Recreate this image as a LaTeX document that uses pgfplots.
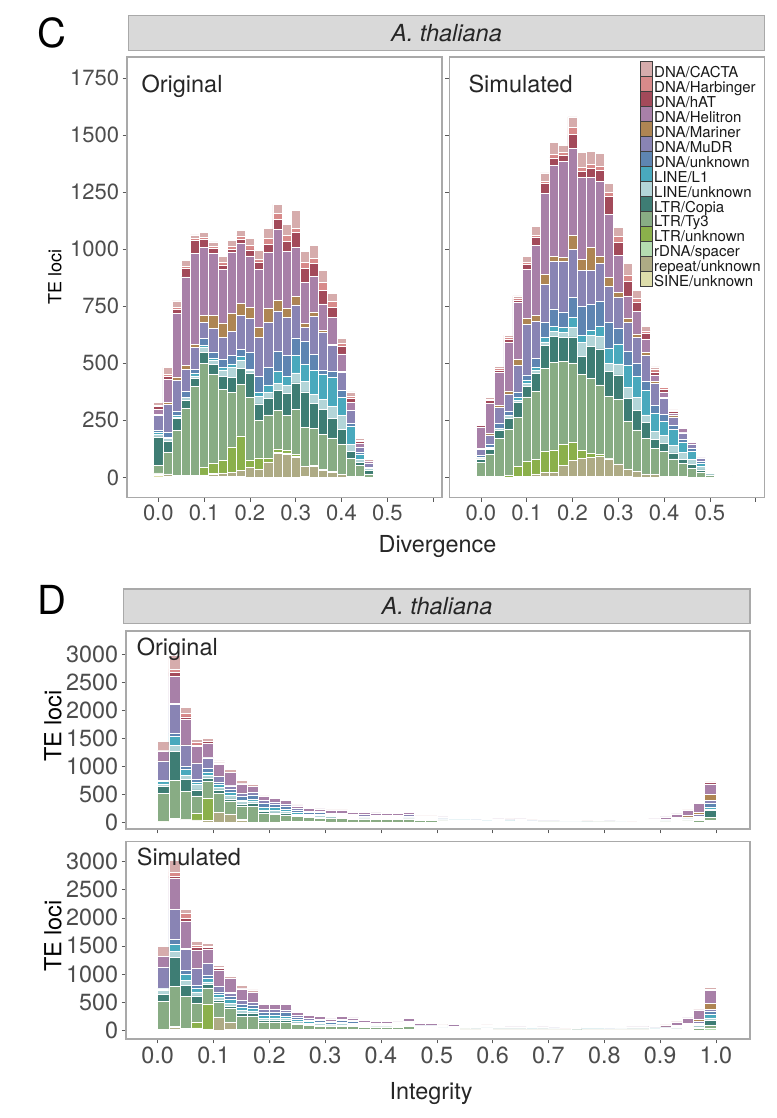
\documentclass[border=0pt]{standalone}
\usepackage{fontspec}
\setmainfont{TeX Gyre Heros}
\usepackage{pgfplots}
\usepackage{pgfplotstable}
\pgfplotsset{compat=1.18}

\definecolor{cCA}{HTML}{D6ACAC}
\definecolor{cHB}{HTML}{D88A8A}
\definecolor{cHA}{HTML}{A34A5A}
\definecolor{cHE}{HTML}{A880A8}
\definecolor{cMA}{HTML}{AE8553}
\definecolor{cMU}{HTML}{8984B4}
\definecolor{cDU}{HTML}{5E85B2}
\definecolor{cL1}{HTML}{49A9BD}
\definecolor{cLN}{HTML}{B3D5D8}
\definecolor{cCO}{HTML}{3E7D74}
\definecolor{cTY}{HTML}{88AC84}
\definecolor{cLU}{HTML}{8BB04B}
\definecolor{cRD}{HTML}{B4DCB0}
\definecolor{cRE}{HTML}{AEAB85}
\definecolor{cSI}{HTML}{DEDEAB}
\definecolor{framec}{HTML}{A9A9A9}
\definecolor{stripc}{HTML}{D9D9D9}
\definecolor{labgray}{HTML}{4D4D4D}

\newcommand\fs[1]{\fontsize{#1}{#1}\selectfont}

\pgfplotstableread{
x SI RE RD LU TY CO LN L1 DU MU MA HE HA HB CA
0.00 8 7 5 0 33 124 12 10 7 65 5 22 12 5 12
0.02 6 6 3 0 94 47 15 5 20 125 7 100 14 10 30
0.04 5 0 5 0 196 51 8 5 19 135 16 280 17 7 29
0.06 3 0 5 0 294 36 12 0 26 98 15 390 36 9 26
0.08 5 0 5 0 387 36 12 10 19 95 13 400 55 9 17
0.10 3 5 3 32 458 48 19 12 30 70 29 300 35 9 22
0.12 3 10 3 44 392 44 18 10 26 102 58 270 22 10 20
0.14 3 17 0 55 312 54 30 10 38 94 64 235 19 10 26
0.16 5 17 0 112 240 65 44 14 38 105 80 265 15 12 25
0.18 3 29 0 150 224 73 32 19 32 148 54 260 20 14 25
0.20 0 44 0 33 272 105 15 5 73 148 51 225 26 19 32
0.22 0 36 0 49 164 73 33 19 70 171 41 255 33 12 39
0.24 0 68 0 17 189 73 26 32 77 196 61 248 33 26 44
0.26 0 105 5 15 167 90 29 52 90 177 44 313 44 26 39
0.28 0 102 5 10 153 99 33 39 93 167 38 250 44 26 49
0.30 0 87 5 10 196 116 44 76 77 145 36 215 68 15 80
0.32 5 44 0 0 169 157 44 77 99 61 19 180 62 25 49
0.34 0 47 5 0 164 109 39 105 70 167 19 156 55 23 58
0.36 0 29 5 0 154 109 44 112 17 164 10 116 61 33 54
0.38 0 22 3 0 148 84 55 128 26 113 5 117 44 26 36
0.40 0 12 0 0 131 67 61 81 29 80 5 75 32 15 22
0.42 0 5 0 0 78 30 33 80 9 58 0 35 17 12 18
0.44 0 3 0 0 50 12 15 23 9 22 0 15 7 7 7
0.46 0 0 0 0 15 15 9 3 3 15 0 12 0 0 7
0.48 0 0 0 0 4 0 0 0 0 0 0 2 0 0 0
}\tCO

\pgfplotstableread{
x SI RE RD LU TY CO LN L1 DU MU MA HE HA HB CA
0.00 3 0 0 0 62 16 3 3 10 26 5 93 7 3 6
0.02 3 0 0 0 100 19 5 3 15 41 7 131 12 4 12
0.04 3 0 0 3 166 34 7 0 22 73 7 145 9 7 12
0.06 0 0 0 10 199 48 15 0 19 73 15 213 12 9 10
0.08 3 0 3 41 217 63 10 12 26 117 26 250 10 5 12
0.10 0 4 0 66 283 44 15 15 22 222 26 216 19 10 26
0.12 3 12 0 63 298 78 15 15 37 161 29 305 37 7 40
0.14 3 19 0 91 363 103 15 19 66 166 44 357 44 7 37
0.16 3 19 0 98 385 114 19 22 78 208 22 398 34 15 54
0.18 3 48 0 92 364 107 22 23 66 223 15 421 26 15 29
0.20 5 70 0 78 349 114 41 44 88 210 63 378 63 29 48
0.22 5 78 0 34 334 78 63 29 129 158 48 358 26 19 66
0.24 3 85 0 19 327 139 48 22 114 151 100 306 41 15 59
0.26 3 88 0 9 305 158 56 44 107 166 34 326 48 19 56
0.28 3 78 3 0 270 110 34 66 114 158 41 276 78 18 41
0.30 3 56 0 0 283 107 48 88 70 136 19 163 56 26 40
0.32 3 34 0 0 210 100 48 95 63 126 16 100 63 29 51
0.34 2 26 0 0 180 85 56 95 56 114 15 100 40 15 37
0.36 0 15 0 0 155 70 34 107 41 111 15 56 26 12 21
0.38 0 12 0 0 114 41 34 81 34 95 10 26 15 10 12
0.40 0 5 0 0 110 34 34 63 29 70 7 22 10 9 6
0.42 0 3 0 0 78 26 34 68 18 38 7 10 7 4 3
0.44 0 3 0 0 58 18 31 44 15 26 3 15 7 3 4
0.46 0 0 0 0 41 15 22 37 12 18 0 7 3 3 3
0.48 0 0 0 0 23 10 15 15 7 12 0 3 0 0 3
0.50 0 0 0 0 8 3 5 5 0 5 0 3 0 0 0
0.52 0 0 0 0 3 0 4 0 0 0 0 0 0 0 0
0.54 0 0 0 0 0 0 3 0 0 2 0 0 0 0 0
0.56 0 0 0 0 0 0 3 0 4 0 0 0 0 0 0
}\tCS

\pgfplotstableread{
x SI RE RD LU TY CO LN L1 DU MU MA HE HA HB CA
0.01 6 6 0 0 505 119 48 40 24 339 6 172 6 6 160
0.03 20 20 12 12 683 523 107 154 59 511 12 489 71 59 238
0.05 21 21 12 0 499 208 77 107 48 375 12 450 48 59 112
0.07 12 12 17 119 309 107 95 48 42 285 12 290 30 42 59
0.09 6 30 0 392 297 65 48 59 59 190 6 250 36 6 53
0.11 0 178 5 0 334 59 48 48 42 107 6 200 30 6 30
0.13 3 148 0 0 230 36 59 65 42 65 6 230 6 6 48
0.15 7 30 10 0 244 30 48 30 59 59 6 160 6 6 48
0.17 0 5 0 0 279 48 48 30 77 42 5 101 6 6 30
0.19 0 0 0 0 160 30 30 48 71 48 0 71 0 0 12
0.21 0 6 0 0 137 24 48 48 59 42 0 59 5 0 18
0.23 0 11 0 0 119 30 30 42 59 36 0 59 0 0 24
0.25 0 10 0 0 89 24 24 36 36 24 0 48 6 0 12
0.27 0 10 0 0 71 18 24 24 30 24 0 48 0 0 12
0.29 0 10 0 0 65 18 24 24 30 24 0 42 0 0 12
0.31 0 8 0 0 59 12 24 18 24 24 0 42 0 0 9
0.33 0 8 0 0 60 15 20 18 24 24 0 42 0 0 9
0.35 0 7 0 0 48 12 20 15 20 24 0 36 0 0 8
0.37 0 7 0 0 42 12 18 15 18 24 0 36 0 0 6
0.39 0 6 0 0 42 10 18 12 18 24 0 36 0 0 6
0.41 0 6 0 0 40 10 15 12 18 20 0 33 0 0 6
0.43 0 6 0 0 40 10 15 12 18 20 0 33 0 0 6
0.45 0 7 0 0 42 12 18 15 18 24 0 36 0 0 6
0.47 0 5 0 0 25 8 12 8 12 14 0 24 0 0 5
0.49 0 5 0 0 25 8 12 8 12 14 0 24 0 0 5
0.51 0 4 0 0 22 6 12 6 12 12 0 22 0 0 5
0.53 0 4 0 0 18 5 10 5 10 12 0 20 0 0 5
0.55 0 4 0 0 18 5 10 5 10 12 0 20 0 0 5
0.57 0 3 0 0 14 4 8 4 8 10 0 15 0 0 5
0.59 0 2 0 0 10 3 6 3 6 8 0 12 0 0 3
0.61 0 3 0 0 12 4 8 4 7 9 0 14 0 0 4
0.63 0 2 0 0 11 3 7 3 7 9 0 13 0 0 4
0.65 0 3 0 0 12 4 8 4 7 9 0 14 0 0 4
0.67 0 2 0 0 8 2 6 2 5 6 0 8 0 0 3
0.69 0 2 0 0 6 2 5 2 4 5 0 7 0 0 3
0.71 0 2 0 0 6 2 5 2 4 5 0 7 0 0 3
0.73 0 1 0 0 3 1 3 1 2 3 0 3 0 0 1
0.75 0 1 0 0 3 1 3 1 2 3 0 3 0 0 1
0.77 0 1 0 0 4 1 4 1 3 4 0 4 0 0 2
0.79 0 2 0 0 5 2 4 2 3 4 0 6 0 0 2
0.81 0 2 0 0 6 2 5 2 4 5 0 7 0 0 3
0.83 0 1 0 0 3 1 3 1 2 3 0 3 0 0 1
0.85 0 0 0 0 1 0 1 0 1 1 0 1 0 0 1
0.87 0 0 0 0 5 0 8 0 5 10 0 20 0 0 5
0.89 0 0 0 0 5 0 8 3 5 10 2 27 0 0 5
0.91 0 0 0 0 8 5 10 5 8 12 8 40 0 0 5
0.93 0 0 0 0 10 8 12 10 10 15 15 70 5 0 5
0.95 0 0 10 0 15 10 15 10 15 20 25 90 5 0 5
0.97 0 0 0 0 30 20 20 20 20 30 30 160 10 0 10
0.99 0 20 10 0 50 130 30 30 60 60 107 186 24 0 12
}\tDO

\pgfplotstableread{
x SI RE RD LU TY CO LN L1 DU MU MA HE HA HB CA
0.01 6 6 0 0 493 131 65 30 12 368 0 196 6 6 166
0.03 20 20 12 12 713 511 107 131 83 535 12 553 36 71 202
0.05 12 12 0 0 570 208 89 95 77 374 12 488 59 83 71
0.07 12 12 12 107 333 131 71 71 48 297 12 319 48 42 59
0.09 0 18 0 446 285 59 48 65 59 201 6 250 42 6 59
0.11 0 226 5 0 255 48 48 48 48 107 0 283 36 6 48
0.13 5 137 0 0 244 30 65 59 59 59 6 250 0 0 48
0.15 0 10 0 0 238 48 48 59 59 59 0 210 6 6 59
0.17 0 5 0 0 238 48 48 48 59 48 0 177 0 0 42
0.19 0 8 0 0 137 30 30 48 71 48 0 85 0 0 18
0.21 0 7 0 0 137 30 40 40 65 48 0 90 0 0 18
0.23 0 7 0 0 130 30 35 45 65 45 0 100 0 0 18
0.25 0 6 0 0 95 24 24 36 40 30 0 60 0 0 12
0.27 0 5 0 0 75 18 24 24 30 24 0 55 0 0 12
0.29 0 5 0 0 65 18 24 24 30 24 0 47 0 0 12
0.31 0 5 0 0 55 12 20 18 24 20 0 45 0 0 9
0.33 0 5 0 0 65 18 24 24 30 24 0 53 0 0 12
0.35 0 6 0 0 58 14 22 20 26 22 0 48 0 0 10
0.37 0 7 0 0 42 12 18 15 18 24 0 36 0 0 6
0.39 0 6 0 0 40 10 15 12 18 20 0 33 0 0 6
0.41 0 6 0 0 40 10 15 12 18 20 0 33 0 0 6
0.43 0 5 0 0 36 10 14 12 16 20 0 30 0 0 6
0.45 0 7 0 0 56 12 22 18 24 24 0 48 0 0 9
0.47 0 5 0 0 27 8 12 8 12 16 0 26 0 0 5
0.49 0 5 0 0 27 8 12 8 12 16 0 26 0 0 5
0.51 0 4 0 0 18 5 10 5 10 12 0 20 0 0 5
0.53 0 4 0 0 20 6 12 6 12 14 0 22 0 0 5
0.55 0 3 0 0 17 5 10 5 10 11 0 18 0 0 4
0.57 0 3 0 0 14 4 8 4 8 10 0 16 0 0 4
0.59 0 4 0 0 18 5 10 5 10 12 0 20 0 0 5
0.61 0 3 0 0 14 4 8 4 8 10 0 16 0 0 4
0.63 0 3 0 0 12 3 7 3 7 8 0 13 0 0 3
0.65 0 3 0 0 12 3 7 3 7 8 0 13 0 0 3
0.67 0 2 0 0 8 2 6 2 5 6 0 9 0 0 2
0.69 0 3 0 0 12 3 7 3 7 8 0 13 0 0 3
0.71 0 2 0 0 10 3 6 3 6 8 0 12 0 0 3
0.73 0 1 0 0 3 1 3 1 2 3 0 3 0 0 1
0.75 0 0 0 0 2 1 2 1 1 2 0 2 0 0 1
0.77 0 2 0 0 8 2 6 2 5 6 0 9 0 0 2
0.79 0 2 0 0 8 2 6 2 5 6 0 9 0 0 2
0.81 0 1 0 0 6 2 4 2 3 4 0 6 0 0 2
0.83 0 2 0 0 9 3 6 3 5 7 0 10 0 0 3
0.85 0 3 0 0 12 3 7 3 7 8 0 13 0 0 3
0.87 0 3 0 0 12 3 7 3 7 8 0 13 0 0 3
0.89 0 0 0 0 6 3 8 4 6 10 4 25 0 0 5
0.91 0 0 0 0 8 5 10 5 8 12 6 30 0 0 5
0.93 0 0 0 0 10 8 12 10 10 15 12 62 5 0 5
0.95 0 0 10 0 15 10 15 12 15 20 25 94 5 0 5
0.97 0 0 0 0 30 25 25 20 20 30 35 163 10 0 10
0.99 0 0 27 0 50 89 48 59 59 30 107 231 30 0 24
}\tDS

\pgfplotsset{
  lkey/.style={legend image code/.code={\draw[##1,draw=black!75,line width=0.5pt] (0pt,-3.3pt) rectangle (11.7pt,11.77pt);}},
  tepanel/.style={
    scale only axis, anchor=south west,
    ybar stacked, bar width=0.02,
    enlargelimits=false,
    axis line style={draw=framec, line width=1.6pt},
    tick style={draw=black!65, line width=0.6pt},
    major tick length=4pt,
    tick align=outside,
    xtick pos=bottom, ytick pos=left,
    /pgf/number format/assume math mode=true,
    /pgf/number format/1000 sep={},
    every axis plot/.append style={draw=white, line width=0.6pt},
  },
}

\newcommand\stackall[1]{%
\addplot[fill=cSI,lkey] table[x=x,y=SI]{#1};
\addplot[fill=cRE,lkey] table[x=x,y=RE]{#1};
\addplot[fill=cRD,lkey] table[x=x,y=RD]{#1};
\addplot[fill=cLU,lkey] table[x=x,y=LU]{#1};
\addplot[fill=cTY,lkey] table[x=x,y=TY]{#1};
\addplot[fill=cCO,lkey] table[x=x,y=CO]{#1};
\addplot[fill=cLN,lkey] table[x=x,y=LN]{#1};
\addplot[fill=cL1,lkey] table[x=x,y=L1]{#1};
\addplot[fill=cDU,lkey] table[x=x,y=DU]{#1};
\addplot[fill=cMU,lkey] table[x=x,y=MU]{#1};
\addplot[fill=cMA,lkey] table[x=x,y=MA]{#1};
\addplot[fill=cHE,lkey] table[x=x,y=HE]{#1};
\addplot[fill=cHA,lkey] table[x=x,y=HA]{#1};
\addplot[fill=cHB,lkey] table[x=x,y=HB]{#1};
\addplot[fill=cCA,lkey] table[x=x,y=CA]{#1};
}

\begin{document}
\begin{tikzpicture}[x=1pt,y=1pt]
\path[use as bounding box] (0,0) rectangle (776,1118);

% ---------- Panel C ----------
\node[font=\fs{40}] at (52,1085.5) {C};
\draw[fill=stripc,draw=framec,line width=1.4pt] (128.3,1067.3) rectangle (764.6,1102.3);
\node[font=\fs{23.5}\itshape,text=black!85] at (446.5,1084.8) {A. thaliana};

\begin{axis}[tepanel,
  at={(126.7pt,620.3pt)}, width=315.3pt, height=440.4pt,
  xmin=-0.069, xmax=0.6194, ymin=-89, ymax=1841,
  xtick={0,0.1,0.2,0.3,0.4,0.5,0.6},
  xticklabels={0.0,0.1,0.2,0.3,0.4,0.5,{}},
  ytick={0,250,500,750,1000,1250,1500,1750},
  ticklabel style={font=\fs{22}, text=labgray},
]
\stackall{\tCO}
\end{axis}

\begin{axis}[tepanel,
  at={(449.3pt,620.3pt)}, width=315.3pt, height=440.4pt,
  xmin=-0.069, xmax=0.6194, ymin=-89, ymax=1841,
  xtick={0,0.1,0.2,0.3,0.4,0.5,0.6},
  xticklabels={0.0,0.1,0.2,0.3,0.4,0.5,{}},
  ytick={0,250,500,750,1000,1250,1500,1750},
  yticklabels={},
  ticklabel style={font=\fs{22}, text=labgray},
  reverse legend,
  legend cell align=left,
  legend style={at={(0.6048,0.9916)}, anchor=north west, draw=none, fill=white,
    inner sep=0pt, row sep=-4.6pt, font=\fs{15}, text=black!90,
    nodes={inner sep=0pt, text height=11.77pt, text depth=3.3pt},
    /tikz/every odd column/.append style={column sep=1.8pt}},
]
\stackall{\tCS}
\legend{SINE/unknown,repeat/unknown,rDNA/spacer,LTR/unknown,LTR/Ty3,LTR/Copia,LINE/unknown,LINE/L1,DNA/unknown,DNA/MuDR,DNA/Mariner,DNA/Helitron,DNA/hAT,DNA/Harbinger,DNA/CACTA}
\end{axis}

\node[font=\fs{23.5},text=black!85,anchor=base west] at (138,1025.3) {Original};
\node[font=\fs{23.5},text=black!85,anchor=base west] at (465,1025.3) {Simulated};
\node[font=\fs{18},rotate=90] at (55,841) {TE loci};
\node[font=\fs{23.4},anchor=base,text=black!85] at (437.5,565.3) {Divergence};

% ---------- Panel D ----------
\node[font=\fs{40}] at (51.5,518) {D};
\draw[fill=stripc,draw=framec,line width=1.4pt] (123.3,494.7) rectangle (750,529);
\node[font=\fs{23.5}\itshape,text=black!85] at (437,512) {A. thaliana};

\begin{axis}[tepanel,
  at={(125.7pt,288.7pt)}, width=624.3pt, height=198.3pt,
  xmin=-0.0573, xmax=1.061, ymin=-125, ymax=3410,
  xtick={0,0.1,0.2,0.3,0.4,0.5,0.6,0.7,0.8,0.9,1.0},
  xticklabels={},
  ytick={0,500,1000,1500,2000,2500,3000},
  ticklabel style={font=\fs{23.4}, text=labgray},
]
\stackall{\tDO}
\end{axis}

\begin{axis}[tepanel,
  at={(125.7pt,78.7pt)}, width=624.3pt, height=197.6pt,
  xmin=-0.0573, xmax=1.061, ymin=-166, ymax=3357,
  xtick={0,0.1,0.2,0.3,0.4,0.5,0.6,0.7,0.8,0.9,1.0},
  xticklabels={0.0,0.1,0.2,0.3,0.4,0.5,0.6,0.7,0.8,0.9,1.0},
  ytick={0,500,1000,1500,2000,2500,3000},
  ticklabel style={font=\fs{23.4}, text=labgray},
]
\stackall{\tDS}
\end{axis}

\node[font=\fs{23.5},text=black!85,anchor=base west] at (133.3,462.7) {Original};
\node[font=\fs{23.5},text=black!85,anchor=base west] at (133.3,252.7) {Simulated};
\node[font=\fs{23.5},rotate=90] at (53,392) {TE loci};
\node[font=\fs{23.5},rotate=90] at (53,182) {TE loci};
\node[font=\fs{23.4},anchor=base,text=black!85] at (431,18) {Integrity};

\end{tikzpicture}
\end{document}
